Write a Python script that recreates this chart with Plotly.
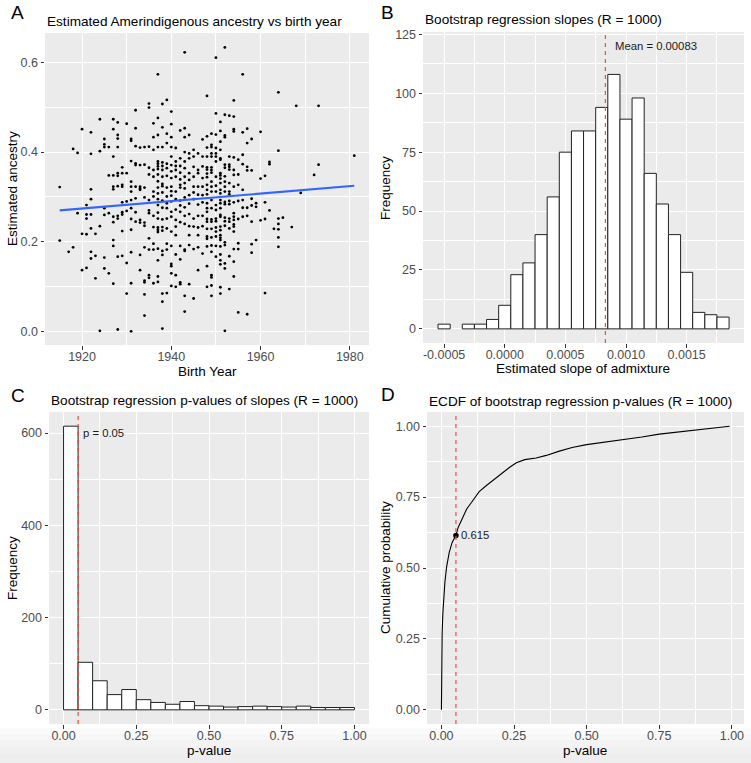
import plotly.graph_objects as go

W, H = 751, 763

# ---------------- Panel A data (birth year -> estimated ancestry values) ----------------
ancestry_by_year = {
    1915: [0.322, 0.203],
    1917: [0.178],
    1918: [0.407, 0.188],
    1919: [0.398, 0.264],
    1920: [0.451, 0.218, 0.137],
    1921: [0.282, 0.261, 0.252, 0.217, 0.142],
    1922: [0.444, 0.396, 0.317, 0.295, 0.261, 0.230, 0.178, 0.163],
    1923: [0.218, 0.169, 0.119],
    1924: [0.473, 0.402, 0.235, 0.002],
    1925: [0.429, 0.417, 0.411, 0.275, 0.260, 0.165, 0.141],
    1926: [0.411, 0.348, 0.264, 0.130],
    1927: [0.473, 0.451, 0.390, 0.348, 0.323, 0.317, 0.256, 0.244, 0.204, 0.191, 0.107],
    1928: [0.466, 0.438, 0.430, 0.411, 0.353, 0.347, 0.324, 0.258, 0.252, 0.167, 0.005],
    1929: [0.366, 0.353, 0.327, 0.323, 0.288, 0.266, 0.261, 0.224, 0.169],
    1930: [0.463, 0.353, 0.290, 0.269, 0.153, 0.085],
    1931: [0.429, 0.425, 0.380, 0.334, 0.323, 0.312, 0.293, 0.275, 0.251, 0.227, 0.177, 0.108, 0.001],
    1932: [0.493, 0.453, 0.413, 0.375, 0.371, 0.323, 0.297, 0.266, 0.245],
    1933: [0.410, 0.371, 0.323, 0.319, 0.316, 0.249, 0.243, 0.171, 0.137],
    1934: [0.411, 0.372, 0.321, 0.299, 0.243, 0.236, 0.188, 0.114, 0.110, 0.083, 0.036],
    1935: [0.508, 0.499, 0.412, 0.365, 0.350, 0.293, 0.270, 0.264, 0.208, 0.183, 0.126, 0.120],
    1936: [0.464, 0.433, 0.405, 0.360, 0.345, 0.312, 0.301, 0.258, 0.233, 0.196, 0.183, 0.108],
    1937: [0.573, 0.476, 0.438, 0.411, 0.379, 0.374, 0.368, 0.362, 0.350, 0.335, 0.321, 0.308,
           0.295, 0.282, 0.265, 0.252, 0.232, 0.227, 0.222, 0.185, 0.159, 0.123, 0.111],
    1938: [0.507, 0.455, 0.411, 0.377, 0.369, 0.360, 0.345, 0.329, 0.324, 0.310, 0.292, 0.276,
           0.250, 0.233, 0.225, 0.180, 0.171, 0.085, 0.067, 0.007],
    1939: [0.516, 0.441, 0.420, 0.374, 0.364, 0.347, 0.321, 0.301, 0.286, 0.275, 0.252, 0.230,
           0.196, 0.183, 0.086],
    1940: [0.490, 0.462, 0.433, 0.411, 0.390, 0.371, 0.357, 0.342, 0.323, 0.313, 0.303, 0.290,
           0.267, 0.256, 0.223, 0.191, 0.151, 0.146, 0.130, 0.102],
    1941: [0.409, 0.379, 0.369, 0.360, 0.345, 0.312, 0.295, 0.272, 0.249, 0.234, 0.215, 0.172,
           0.126, 0.100],
    1942: [0.448, 0.386, 0.369, 0.354, 0.339, 0.327, 0.321, 0.292, 0.281, 0.267, 0.244, 0.191,
           0.161, 0.110, 0.106],
    1943: [0.622, 0.453, 0.433, 0.400, 0.379, 0.364, 0.345, 0.331, 0.319, 0.299, 0.277, 0.258,
           0.240, 0.183, 0.180, 0.080, 0.045],
    1944: [0.438, 0.397, 0.386, 0.353, 0.338, 0.304, 0.285, 0.262, 0.235, 0.215, 0.193, 0.106],
    1945: [0.405, 0.390, 0.367, 0.345, 0.323, 0.310, 0.295, 0.252, 0.234, 0.184, 0.074],
    1946: [0.397, 0.360, 0.353, 0.323, 0.305, 0.283, 0.258, 0.232, 0.215, 0.188, 0.137],
    1947: [0.428, 0.390, 0.368, 0.342, 0.323, 0.304, 0.288, 0.258, 0.235, 0.174],
    1948: [0.525, 0.435, 0.410, 0.390, 0.366, 0.361, 0.352, 0.344, 0.327, 0.316, 0.306, 0.286,
           0.275, 0.267, 0.251, 0.245, 0.229, 0.212, 0.207, 0.190, 0.146, 0.100],
    1949: [0.441, 0.416, 0.411, 0.397, 0.390, 0.366, 0.360, 0.354, 0.334, 0.323, 0.312, 0.293,
           0.275, 0.250, 0.245, 0.229, 0.210, 0.192, 0.178, 0.126, 0.121, 0.103, 0.080],
    1950: [0.610, 0.486, 0.439, 0.409, 0.397, 0.390, 0.379, 0.345, 0.325, 0.312, 0.282, 0.271,
           0.252, 0.246, 0.232, 0.223, 0.212, 0.191, 0.167],
    1951: [0.467, 0.447, 0.423, 0.405, 0.386, 0.383, 0.353, 0.348, 0.341, 0.331, 0.316, 0.308,
           0.293, 0.286, 0.275, 0.260, 0.256, 0.234, 0.226, 0.215, 0.209, 0.204, 0.190, 0.172,
           0.159, 0.150, 0.099, 0.085],
    1952: [0.633, 0.483, 0.437, 0.433, 0.372, 0.365, 0.346, 0.334, 0.323, 0.312, 0.289, 0.284,
           0.254, 0.246, 0.236, 0.199, 0.193, 0.152, 0.141, 0.002],
    1953: [0.481, 0.390, 0.372, 0.367, 0.361, 0.331, 0.312, 0.306, 0.291, 0.284, 0.252, 0.245,
           0.230, 0.168, 0.095],
    1954: [0.515, 0.479, 0.451, 0.446, 0.388, 0.360, 0.349, 0.323, 0.288, 0.264, 0.256, 0.249,
           0.239, 0.234, 0.223, 0.184, 0.156, 0.123],
    1955: [0.383, 0.350, 0.327, 0.291, 0.251, 0.197, 0.184, 0.043],
    1956: [0.573, 0.444, 0.394, 0.373, 0.316, 0.293, 0.276, 0.256],
    1957: [0.452, 0.420, 0.367, 0.359, 0.276, 0.258, 0.039],
    1958: [0.429, 0.359, 0.296, 0.281, 0.245, 0.195, 0.176],
    1959: [0.286, 0.278, 0.204],
    1960: [0.445, 0.341, 0.248],
    1961: [0.347, 0.288, 0.251, 0.086],
    1962: [0.378, 0.373, 0.270],
    1963: [0.229],
    1964: [0.533, 0.403, 0.252, 0.240, 0.228, 0.210, 0.189],
    1965: [0.254],
    1967: [0.233],
    1968: [0.503],
    1969: [0.309],
    1972: [0.349],
    1973: [0.503, 0.372],
    1981: [0.392],
}
birth_year = [y for y, vals in ancestry_by_year.items() for _ in vals]
ancestry = [v for vals in ancestry_by_year.values() for v in vals]

fit_years = [1915, 1981]
fit_values = [0.270, 0.325]

# ---------------- Panel B data ----------------
slope_bin_centers = [-0.0005, -0.0004, -0.0003, -0.0002, -0.0001, 0.0000, 0.0001, 0.0002,
                     0.0003, 0.0004, 0.0005, 0.0006, 0.0007, 0.0008, 0.0009, 0.0010,
                     0.0011, 0.0012, 0.0013, 0.0014, 0.0015, 0.0016, 0.0017, 0.0018]
slope_counts = [2, 0, 2, 2, 4, 10, 23, 28, 40, 56, 75, 84, 84, 94, 108, 89, 98, 66, 53, 40,
                24, 7, 6, 5]
slope_binwidth = 0.0001
mean_slope = 0.00083

# ---------------- Panel C data ----------------
p_bin_centers = [0.025, 0.075, 0.125, 0.175, 0.225, 0.275, 0.325, 0.375, 0.425, 0.475,
                 0.525, 0.575, 0.625, 0.675, 0.725, 0.775, 0.825, 0.875, 0.925, 0.975]
p_counts = [615, 103, 63, 33, 44, 22, 16, 12, 18, 9, 8, 6, 7, 8, 7, 6, 8, 5, 5, 5]
p_binwidth = 0.05
p_threshold = 0.05

# ---------------- Panel D data ----------------
ecdf_p = [0.0, 0.0004, 0.001, 0.0025, 0.005, 0.008, 0.012, 0.018, 0.027, 0.037, 0.05,
          0.058, 0.07, 0.087, 0.104, 0.115, 0.13, 0.155, 0.184, 0.212, 0.235, 0.258,
          0.287, 0.326, 0.361, 0.406, 0.45, 0.5, 0.56, 0.632, 0.69, 0.75, 0.8, 0.862,
          0.92, 0.992]
ecdf_prob = [0.0, 0.12, 0.2, 0.27, 0.34, 0.40, 0.45, 0.505, 0.555, 0.59, 0.615,
             0.644, 0.673, 0.708, 0.732, 0.749, 0.769, 0.791, 0.814, 0.838, 0.855, 0.871,
             0.882, 0.888, 0.897, 0.912, 0.925, 0.935, 0.943, 0.953, 0.962, 0.972, 0.978,
             0.986, 0.993, 1.0]
ecdf_at_threshold = 0.615

# ---------------- Styling ----------------
FONT = "Liberation Sans, Arial, Helvetica, sans-serif"
PANEL_BG = "#EBEBEB"
TICK_COL = "#4D4D4D"


def dom_x(px0, px1):
    return [px0 / W, px1 / W]


def dom_y(py_top, py_bot):
    return [1 - py_bot / H, 1 - py_top / H]


def axis(domain, rng, tickvals, ticktext, minor_vals, anchor, standoff=0):
    return dict(
        domain=domain, range=rng, anchor=anchor,
        tickmode="array", tickvals=tickvals, ticktext=ticktext,
        showgrid=True, gridcolor="white", gridwidth=1.1,
        zeroline=False, showline=False,
        ticks="outside", ticklen=3.5, tickwidth=1, tickcolor="#333333",
        ticklabelstandoff=standoff,
        tickfont=dict(family=FONT, size=12.5, color=TICK_COL),
        minor=dict(tickmode="array", tickvals=minor_vals, showgrid=True,
                   gridcolor="white", gridwidth=0.55, ticks=""),
        automargin=False, fixedrange=True,
    )


fig = go.Figure()

# Panel A
fig.add_trace(go.Scatter(x=birth_year, y=ancestry, mode="markers",
                         marker=dict(color="black", size=2.8),
                         xaxis="x", yaxis="y", showlegend=False))
fig.add_trace(go.Scatter(x=fit_years, y=fit_values, mode="lines",
                         line=dict(color="#3366FF", width=2.2),
                         xaxis="x", yaxis="y", showlegend=False))

# Panel B
bx = [c for c, n in zip(slope_bin_centers, slope_counts) if n > 0]
by = [n for n in slope_counts if n > 0]
fig.add_trace(go.Bar(x=bx, y=by, width=slope_binwidth,
                     marker=dict(color="white", line=dict(color="#222222", width=1)),
                     xaxis="x2", yaxis="y2", showlegend=False))

# Panel C
fig.add_trace(go.Bar(x=p_bin_centers, y=p_counts, width=p_binwidth,
                     marker=dict(color="white", line=dict(color="#222222", width=1)),
                     xaxis="x3", yaxis="y3", showlegend=False))

# Panel D
fig.add_trace(go.Scatter(x=ecdf_p, y=ecdf_prob, mode="lines",
                         line=dict(color="black", width=1.1),
                         xaxis="x4", yaxis="y4", showlegend=False))
fig.add_trace(go.Scatter(x=[p_threshold], y=[ecdf_at_threshold], mode="markers",
                         marker=dict(color="black", size=5.5),
                         xaxis="x4", yaxis="y4", showlegend=False))

# Domains (pixel based)
A_x, A_y = dom_x(45, 369), dom_y(33, 345)
B_x, B_y = dom_x(423, 744), dom_y(32, 343)
C_x, C_y = dom_x(49, 369), dom_y(412, 724)
D_x, D_y = dom_x(427, 744), dom_y(412, 724)

XS = -4  # pull x tick labels closer to the axis, as in ggplot

fig.update_layout(
    width=W, height=H,
    margin=dict(l=0, r=0, t=0, b=0),
    paper_bgcolor="white",
    template="none",
    showlegend=False,
    barmode="overlay",
    font=dict(family=FONT),
    xaxis=axis(A_x, [1911.7, 1984.3], [1920, 1940, 1960, 1980],
               ["1920", "1940", "1960", "1980"], [1930, 1950, 1970], "y", XS),
    yaxis=axis(A_y, [-0.0295, 0.665], [0.0, 0.2, 0.4, 0.6],
               ["0.0", "0.2", "0.4", "0.6"], [0.1, 0.3, 0.5], "x"),
    xaxis2=axis(B_x, [-0.000674, 0.001973], [-0.0005, 0.0, 0.0005, 0.001, 0.0015],
                ["-0.0005", "0.0000", "0.0005", "0.0010", "0.0015"],
                [-0.00025, 0.00025, 0.00075, 0.00125, 0.00175], "y2", XS),
    yaxis2=axis(B_y, [-6, 126], [0, 25, 50, 75, 100, 125],
                ["0", "25", "50", "75", "100", "125"],
                [12.5, 37.5, 62.5, 87.5, 112.5], "x2"),
    xaxis3=axis(C_x, [-0.05, 1.05], [0, 0.25, 0.5, 0.75, 1.0],
                ["0.00", "0.25", "0.50", "0.75", "1.00"],
                [0.125, 0.375, 0.625, 0.875], "y3", XS),
    yaxis3=axis(C_y, [-30.75, 645.75], [0, 200, 400, 600],
                ["0", "200", "400", "600"], [100, 300, 500], "x3"),
    xaxis4=axis(D_x, [-0.0496, 1.0416], [0, 0.25, 0.5, 0.75, 1.0],
                ["0.00", "0.25", "0.50", "0.75", "1.00"],
                [0.125, 0.375, 0.625, 0.875], "y4", XS),
    yaxis4=axis(D_y, [-0.05, 1.05], [0, 0.25, 0.5, 0.75, 1.0],
                ["0.00", "0.25", "0.50", "0.75", "1.00"],
                [0.125, 0.375, 0.625, 0.875], "x4"),
)

shapes = []
# panel backgrounds
for xr, yr in [("x", "y"), ("x2", "y2"), ("x3", "y3"), ("x4", "y4")]:
    shapes.append(dict(type="rect", xref=f"{xr} domain", yref=f"{yr} domain",
                       x0=0, x1=1, y0=0, y1=1, fillcolor=PANEL_BG,
                       line=dict(width=0), layer="below"))
# dashed reference lines
dash_line = dict(color="#F8493F", width=1.2, dash="4px,4px")
shapes.append(dict(type="line", xref="x2", yref="y2 domain", x0=mean_slope, x1=mean_slope,
                   y0=0, y1=1, line=dash_line, layer="above"))
shapes.append(dict(type="line", xref="x3", yref="y3 domain", x0=p_threshold, x1=p_threshold,
                   y0=0, y1=1, line=dash_line, layer="above"))
shapes.append(dict(type="line", xref="x4", yref="y4 domain", x0=p_threshold, x1=p_threshold,
                   y0=0, y1=1, line=dash_line, layer="above"))
# soft gray band at bottom of the screenshot
band = [(728, "#fbfbfb"), (734, "#f7f7f7"), (740, "#f3f3f3"), (747, "#f0f0f0"), (754, "#eeeeee")]
for i, (ytop, col) in enumerate(band):
    ybot = band[i + 1][0] if i + 1 < len(band) else H
    shapes.append(dict(type="rect", xref="paper", yref="paper", x0=0, x1=1,
                       y0=1 - ybot / H, y1=1 - ytop / H, fillcolor=col,
                       line=dict(width=0), layer="below"))
fig.update_layout(shapes=shapes)

ann = []


def text(x, y, s, size, color="black", xanchor="left", yanchor="middle", angle=0):
    ann.append(dict(x=x / W, y=1 - y / H, xref="paper", yref="paper", text=s,
                    showarrow=False, xanchor=xanchor, yanchor=yanchor, textangle=angle,
                    font=dict(family=FONT, size=size, color=color)))


# panel letters
text(9, 13, "A", 19)
text(379, 13, "B", 19)
text(9, 395, "C", 19)
text(379, 394, "D", 19)
# titles
text(45, 21, "Estimated Amerindigenous ancestry vs birth year", 13.6)
text(423, 19, "Bootstrap regression slopes (R = 1000)", 13.6)
text(49, 400, "Bootstrap regression p-values of slopes (R = 1000)", 13.6)
text(427, 401, "ECDF of bootstrap regression p-values (R = 1000)", 13.6)
# axis titles
text(207, 371, "Birth Year", 13.5, xanchor="center")
text(12, 189, "Estimated ancestry", 13.5, xanchor="center", angle=-90)
text(583, 369, "Estimated slope of admixture", 13.5, xanchor="center")
text(385, 188, "Frequency", 13.5, xanchor="center", angle=-90)
text(209, 750, "p-value", 13.5, xanchor="center")
text(12, 568, "Frequency", 13.5, xanchor="center", angle=-90)
text(585, 750, "p-value", 13.5, xanchor="center")
text(385, 568, "Cumulative probability", 13.5, xanchor="center", angle=-90)
fig.update_layout(annotations=ann)

# data-anchored labels
fig.add_annotation(x=0.00089, y=120, xref="x2", yref="y2", text="Mean = 0.00083",
                   showarrow=False, xanchor="left", yanchor="middle",
                   font=dict(family=FONT, size=11.3, color="#1a1a1a"))
fig.add_annotation(x=0.061, y=600, xref="x3", yref="y3", text="p = 0.05",
                   showarrow=False, xanchor="left", yanchor="middle",
                   font=dict(family=FONT, size=11.3, color="#1a1a1a"))
fig.add_annotation(x=0.061, y=ecdf_at_threshold, xref="x4", yref="y4", text="0.615",
                   showarrow=False, xanchor="left", yanchor="middle",
                   font=dict(family=FONT, size=11.3, color="#1a1a1a"))

fig.write_html(
    "out.html",
    config={"displayModeBar": False},
    post_script=(
        "document.body.style.margin='0px';"
        "document.body.style.padding='0px';"
        "document.documentElement.style.overflow='hidden';"
    ),
)
